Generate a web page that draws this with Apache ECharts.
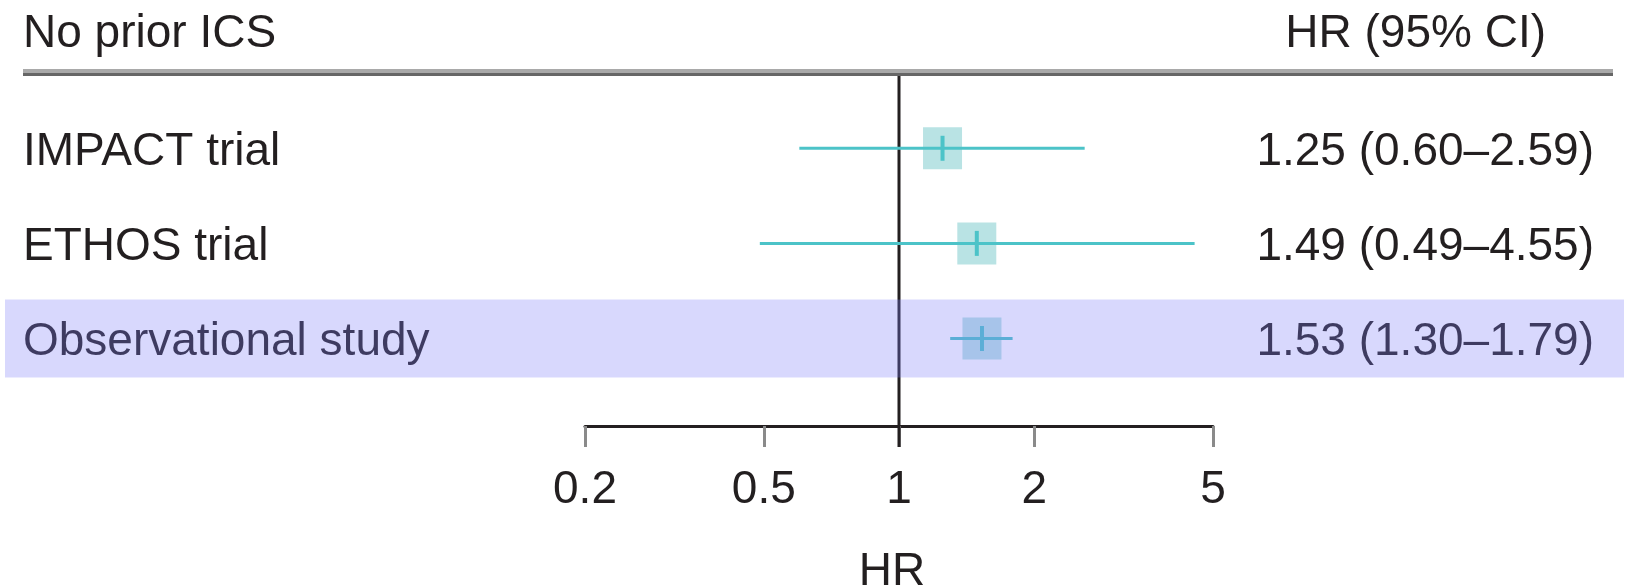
<!DOCTYPE html>
<html>
<head>
<meta charset="utf-8">
<script src="https://cdn.jsdelivr.net/npm/echarts@6/dist/echarts.min.js"></script>
<style>
  html, body { margin: 0; padding: 0; background: #ffffff; }
  #chart { width: 1627px; height: 588px; }
</style>
</head>
<body>
<div id="chart"></div>
<script>
// Study rows and their hazard ratios with 95% confidence intervals
const rowLabels = ['IMPACT trial', 'ETHOS trial', 'Observational study'];
const hrValues = [1.25, 1.49, 1.53];
const ciLow = [0.60, 0.49, 1.30];
const ciHigh = [2.59, 4.55, 1.79];
const highlightedRows = [2];
const tickValues = [0.2, 0.5, 1, 2, 5];
const groupTitle = 'No prior ICS';
const estimateTitle = 'HR (95% CI)';
const axisTitle = 'HR';

const FONT_FAMILY = '"Liberation Sans", Arial, sans-serif';
const FONT_SIZE = 46;
const TEXT_COLOR = '#231f20';
const BOX_COLOR = '#b9e3e4';
const CI_COLOR = '#4cc3c8';

const log10 = v => Math.log10(v);
const fmt = v => v.toFixed(2);

const markData = rowLabels.map((name, i) => [log10(hrValues[i]), i, log10(ciLow[i]), log10(ciHigh[i])]);
const bandData = highlightedRows.map(i => [0, i]);

const chart = echarts.init(document.getElementById('chart'), null, { renderer: 'canvas' });

function textEl(x, y, text, align) {
  return {
    type: 'text',
    x: x, y: y,
    style: {
      text: text,
      fontSize: FONT_SIZE,
      fontFamily: FONT_FAMILY,
      fill: TEXT_COLOR,
      align: align, verticalAlign: 'middle',
      textAlign: align, textVerticalAlign: 'middle'
    }
  };
}

const option = {
  animation: false,
  backgroundColor: '#ffffff',
  grid: { left: 585, top: 76, width: 628, height: 350, containLabel: false, outerBoundsMode: 'none' },
  xAxis: {
    type: 'value',
    min: log10(tickValues[0]),
    max: log10(tickValues[tickValues.length - 1]),
    splitLine: { show: false },
    axisLine: { show: true, onZero: false, lineStyle: { color: '#231f20', width: 3 } },
    axisTick: {
      show: true,
      customValues: tickValues.map(log10),
      length: 21,
      lineStyle: { color: '#8a8a8a', width: 3 }
    },
    axisLabel: {
      customValues: tickValues.map(log10),
      formatter: v => {
        const t = tickValues.find(tv => Math.abs(log10(tv) - v) < 1e-9);
        return t === undefined ? '' : String(t);
      },
      margin: 41,
      fontSize: FONT_SIZE,
      fontFamily: FONT_FAMILY,
      color: TEXT_COLOR
    },
    name: axisTitle,
    nameLocation: 'middle',
    nameGap: 123,
    nameTextStyle: { fontSize: FONT_SIZE, fontFamily: FONT_FAMILY, color: TEXT_COLOR, padding: [0, 14, 0, 0] }
  },
  yAxis: { type: 'value', inverse: true, min: -0.76, max: 2.92, show: false },
  graphic: [
    { type: 'text', left: 23, top: 11, style: { text: groupTitle, fontSize: FONT_SIZE, fontFamily: FONT_FAMILY, fill: TEXT_COLOR } },
    { type: 'text', right: 81, top: 11, style: { text: estimateTitle, fontSize: FONT_SIZE, fontFamily: FONT_FAMILY, fill: TEXT_COLOR } },
    { type: 'rect', shape: { x: 23, y: 69, width: 1590, height: 4 }, style: { fill: '#a9a9a9' } },
    { type: 'rect', shape: { x: 23, y: 73, width: 1590, height: 3 }, style: { fill: '#666666' } }
  ],
  series: [
    {
      // vertical reference line at HR = 1, running down through the axis tick
      type: 'custom',
      z: 2,
      clip: false,
      data: [[0, 0]],
      encode: { x: 0, y: 1 },
      renderItem: (params, api) => {
        const cs = params.coordSys;
        const x = api.coord([api.value(0), 0])[0];
        return {
          type: 'line',
          shape: { x1: x, y1: cs.y, x2: x, y2: cs.y + cs.height + 21 },
          style: { stroke: '#231f20', lineWidth: 3 }
        };
      }
    },
    {
      // study boxes, confidence intervals, labels and estimate text
      type: 'custom',
      z: 3,
      clip: false,
      data: markData,
      encode: { x: [0, 2, 3], y: 1 },
      renderItem: (params, api) => {
        const i = params.dataIndex;
        const row = api.value(1);
        const est = api.coord([api.value(0), row]);
        const lo = api.coord([api.value(2), row]);
        const hi = api.coord([api.value(3), row]);
        const label = fmt(hrValues[i]) + ' (' + fmt(ciLow[i]) + '\u2013' + fmt(ciHigh[i]) + ')';
        return {
          type: 'group',
          children: [
            { type: 'rect', shape: { x: est[0] - 19.5, y: est[1] - 21, width: 39, height: 42 }, style: { fill: BOX_COLOR } },
            { type: 'line', shape: { x1: lo[0], y1: lo[1], x2: hi[0], y2: hi[1] }, style: { stroke: CI_COLOR, lineWidth: 3 } },
            { type: 'line', shape: { x1: est[0], y1: est[1] - 12.5, x2: est[0], y2: est[1] + 12.5 }, style: { stroke: CI_COLOR, lineWidth: 4 } },
            textEl(23, est[1] + 4, rowLabels[i], 'left'),
            textEl(api.getWidth() - 33, est[1] + 4, label, 'right')
          ]
        };
      }
    },
    {
      // translucent highlight across the observational row
      type: 'custom',
      z: 4,
      clip: false,
      data: bandData,
      encode: { x: 0, y: 1 },
      renderItem: (params, api) => {
        const row = api.value(1);
        const top = api.coord([0, row - 0.41])[1];
        const bottom = api.coord([0, row + 0.41])[1];
        return {
          type: 'rect',
          shape: { x: 5, y: top, width: api.getWidth() - 8, height: bottom - top },
          style: { fill: 'rgba(125,125,248,0.3)' }
        };
      }
    }
  ]
};

chart.setOption(option);
</script>
</body>
</html>
